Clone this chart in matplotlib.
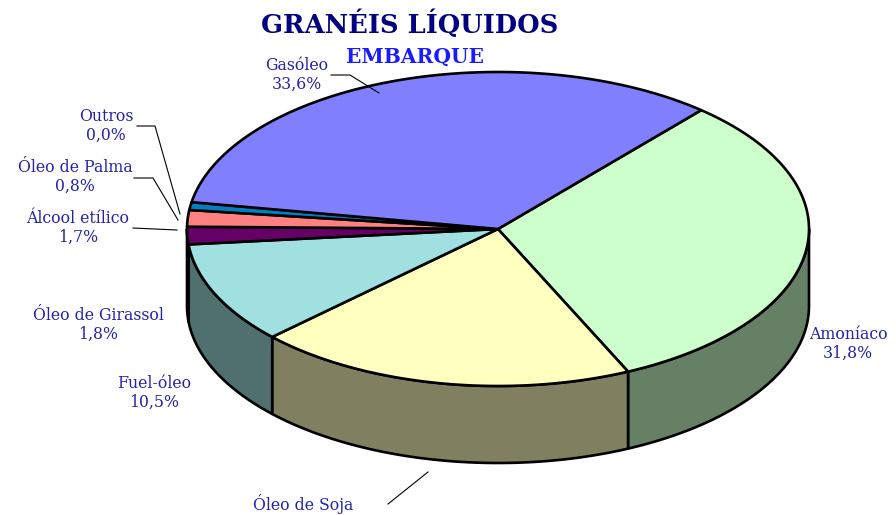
import numpy as np
import matplotlib.pyplot as plt
from matplotlib.patches import Polygon
from matplotlib.colors import to_rgb

# data, clockwise from the upper right
labels = ['Amoníaco', 'Óleo de Soja', 'Fuel-óleo', 'Óleo de Girassol',
          'Álcool etílico', 'Óleo de Palma', 'Outros', 'Gasóleo']
values = [31.8, 19.8, 10.5, 1.8, 1.7, 0.8, 0.0, 33.6]
colors = ['#CCFFCC', '#FFFFC0', '#A0E0E0', '#660066',
          '#FF8080', '#0080C0', '#9999FF', '#8080FF']

# pie geometry in pixels
cx, cy = 498, 229
a, b = 311, 157
depth = 77
start = 49.2
txt_col = '#2323A8'

fig = plt.figure(figsize=(8.96, 5.15), dpi=100)
ax = fig.add_axes([0, 0, 1, 1])
ax.set_xlim(0, 896)
ax.set_ylim(515, 0)
ax.axis('off')


def pt(t):
    r = np.radians(t)
    return cx + a * np.cos(r), cy - b * np.sin(r)


total = sum(values)
bounds = []
t = start
for v in values:
    t2 = t - 360 * v / total
    bounds.append((t, t2))
    t = t2

# side walls (front half only)
for (t1, t2), c in zip(bounds, colors):
    hi, lo = t1, t2
    while hi > 0 and lo >= 0:
        hi -= 360
        lo -= 360
    for off in (0, 360, -360):
        h = min(hi + off, 0)
        l = max(lo + off, -180)
        if h - l <= 0:
            continue
        ts = np.linspace(h, l, 60)
        top = [pt(x) for x in ts]
        bot = [(x, y + depth) for x, y in top[::-1]]
        side = tuple(np.array(to_rgb(c)) * 0.5)
        ax.add_patch(Polygon(top + bot, closed=True, facecolor=side,
                             edgecolor='black', lw=1.9, joinstyle='round'))

# top faces
for (t1, t2), c in zip(bounds, colors):
    if t1 - t2 <= 0:
        continue
    ts = np.linspace(t1, t2, max(int((t1 - t2) * 2), 4))
    poly = [(cx, cy)] + [pt(x) for x in ts]
    ax.add_patch(Polygon(poly, closed=True, facecolor=c,
                         edgecolor='black', lw=1.9, joinstyle='round'))


def pct(v):
    return f'{v:.1f}%'.replace('.', ',')


fs = 11.3
fam = 'DejaVu Serif'
lab = dict(zip(labels, values))
tk = dict(ha='center', va='center', fontsize=fs, family=fam, color=txt_col,
          linespacing=1.2)

ax.text(297, 75, 'Gasóleo\n' + pct(lab['Gasóleo']), **tk)
ax.text(848, 344, 'Amoníaco\n' + pct(lab['Amoníaco']), **tk)
ax.text(303, 504, 'Óleo de Soja', **tk)
ax.text(154, 393, 'Fuel-óleo\n' + pct(lab['Fuel-óleo']), **tk)
ax.text(98, 325, 'Óleo de Girassol\n' + pct(lab['Óleo de Girassol']), **tk)
ax.text(78, 228, 'Álcool etílico\n' + pct(lab['Álcool etílico']), **tk)
ax.text(75, 177, 'Óleo de Palma\n' + pct(lab['Óleo de Palma']), **tk)
ax.text(106, 126, 'Outros\n' + pct(lab['Outros']), **tk)

# leader lines
lk = dict(color='black', lw=0.8)
ax.plot([331, 350, 379], [75, 75, 93], **lk)
ax.plot([137, 155, 180], [126, 126, 214], **lk)
ax.plot([134, 153, 178], [178, 178, 220], **lk)
ax.plot([133, 177], [228, 230], **lk)
ax.plot([388, 428], [504, 472], **lk)

# titles
ax.text(410, 24, 'GRANÉIS LÍQUIDOS', ha='center', va='center', fontsize=18.5,
        family=fam, fontweight='bold', color='#000080')
ax.text(415, 57, 'EMBARQUE', ha='center', va='center', fontsize=14.5,
        family=fam, fontweight='bold', color='#1A1AFF')

fig.savefig('out.png', dpi=100)
